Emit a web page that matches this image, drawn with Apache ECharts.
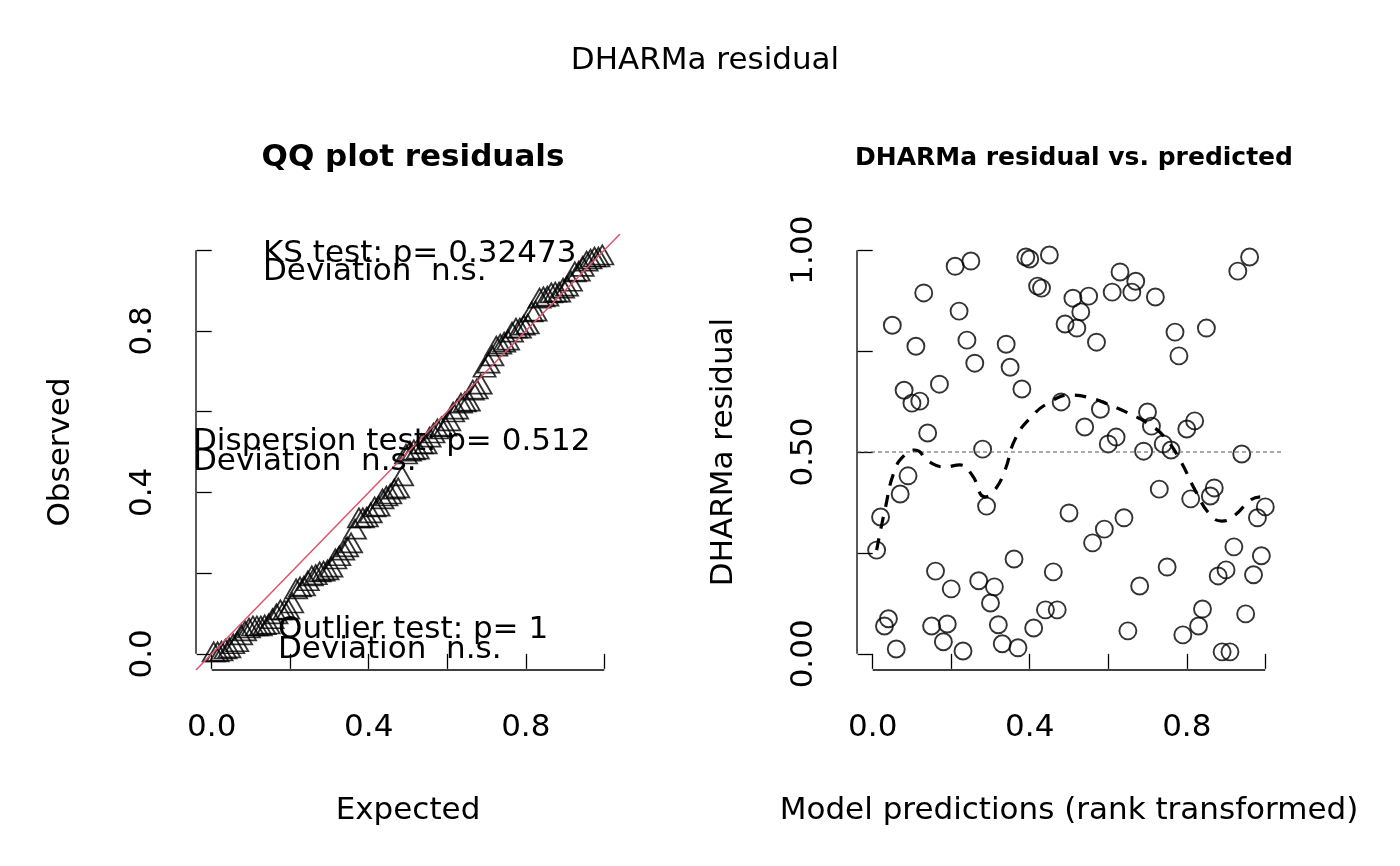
<!DOCTYPE html>
<html><head><meta charset="utf-8">
<script src="https://cdn.jsdelivr.net/npm/echarts@6/dist/echarts.min.js"></script>
<style>html,body{margin:0;padding:0;background:#fff}#c{width:1400px;height:866px}</style>
</head><body><div id="c"></div>
<script>
// Scaled residuals in order of rank-transformed model predictions
const residuals = [0.257,0.339,0.069,0.087,0.814,0.012,0.396,0.653,0.441,0.621,
0.762,0.626,0.894,0.547,0.069,0.205,0.668,0.030,0.074,0.161,
0.960,0.849,0.007,0.777,0.973,0.720,0.181,0.507,0.366,0.126,
0.166,0.072,0.025,0.767,0.710,0.235,0.015,0.656,0.983,0.978,
0.064,0.911,0.906,0.109,0.988,0.203,0.109,0.624,0.817,0.349,
0.881,0.807,0.847,0.562,0.886,0.275,0.772,0.606,0.309,0.520,
0.896,0.537,0.946,0.337,0.057,0.896,0.923,0.168,0.502,0.599,
0.564,0.884,0.408,0.520,0.215,0.505,0.797,0.738,0.047,0.557,
0.384,0.577,0.069,0.111,0.807,0.391,0.411,0.193,0.005,0.208,
0.005,0.265,0.948,0.495,0.099,0.983,0.196,0.337,0.243,0.364];
// Quantile regression smooth (median)
const smoothX = [0.010,0.031,0.056,0.082,0.107,0.145,0.184,0.222,0.253,0.286,0.311,0.337,0.362,0.401,0.452,0.503,0.554,0.605,0.656,0.707,0.745,0.783,0.821,0.860,0.890,0.923,0.962,0.987];
const smoothY = [0.257,0.356,0.455,0.493,0.505,0.475,0.463,0.468,0.443,0.389,0.406,0.455,0.530,0.584,0.624,0.641,0.634,0.616,0.594,0.567,0.535,0.480,0.406,0.344,0.329,0.344,0.381,0.389];
const qqTicks = [0,0.2,0.4,0.6,0.8,1.0];
const qqLabels = [0,0.4,0.8];
const resTicks = [0,0.25,0.5,0.75,1.0];
const resLabels = [0,0.5,1.0];
const texts = [
 ["KS test: p= 0.32473",263,255],["Deviation  n.s.",263,273],
 ["Dispersion test: p= 0.512",193,443],["Deviation  n.s.",193,463],
 ["Outlier test: p= 1",278,631],["Deviation  n.s.",278,651]];

const n = residuals.length;
const predRank = residuals.map((_,i)=>(i+1)/n);
const sorted = residuals.slice().sort((a,b)=>a-b);
const expected = sorted.map((_,i)=>(i+0.5)/n);

const F = 'DejaVu Sans';
const FS = 31;
function xAx(idx, ticks, labels, name, dec){
  return {gridIndex:idx,type:'value',min:-0.04,max:1.04,splitLine:{show:false},axisLine:{show:false},
    axisTick:{customValues:ticks,length:15,lineStyle:{color:'#000',width:1.3}},
    axisLabel:{customValues:labels,margin:42,fontFamily:F,fontSize:FS,color:'#000',formatter:v=>v.toFixed(dec)},
    name:name,nameLocation:'middle',nameGap:125,nameTextStyle:{fontFamily:F,fontSize:FS,color:'#000'}};
}
function yAx(idx, ticks, labels, name, dec, gap){
  return {gridIndex:idx,type:'value',min:-0.04,max:1.04,splitLine:{show:false},axisLine:{show:false},
    axisTick:{customValues:ticks,length:15,lineStyle:{color:'#000',width:1.3}},
    axisLabel:{customValues:labels,rotate:90,margin:38,fontFamily:F,fontSize:FS,color:'#000',formatter:v=>v.toFixed(dec)},
    name:name,nameLocation:'middle',nameGap:gap,nameRotate:90,nameTextStyle:{fontFamily:F,fontSize:FS,color:'#000'}};
}
const axisLine = (xi,pts)=>({type:'line',xAxisIndex:xi,yAxisIndex:xi,data:pts,symbol:'none',clip:false,silent:true,lineStyle:{color:'#000',width:1.3}});
const opt = {
  animation:false,
  title:[
    {text:'DHARMa residual',left:700,top:40,textAlign:'center',textStyle:{fontFamily:F,fontSize:FS,fontWeight:'normal',color:'#000'}},
    {text:'QQ plot residuals',left:408,top:137,textAlign:'center',textStyle:{fontFamily:F,fontSize:31,fontWeight:'bold',color:'#000'}},
    {text:'DHARMa residual vs. predicted',left:1069,top:141,textAlign:'center',textStyle:{fontFamily:F,fontSize:25,fontWeight:'bold',color:'#000'}}
  ],
  grid:[{left:196,right:780,top:234,bottom:196},{left:857,right:119,top:234,bottom:196}],
  xAxis:[xAx(0,qqTicks,qqLabels,'Expected',1),xAx(1,qqTicks,qqLabels,'Model predictions (rank transformed)',1)],
  yAxis:[yAx(0,qqTicks,qqLabels,'Observed',1,120),yAx(1,resTicks,resLabels,'DHARMa residual',2,118)],
  series:[
    axisLine(0,[[0,-0.04],[1,-0.04]]),axisLine(0,[[-0.04,0],[-0.04,1]]),
    axisLine(1,[[0,-0.04],[1,-0.04]]),axisLine(1,[[-0.04,0],[-0.04,1]]),
    {type:'line',xAxisIndex:0,yAxisIndex:0,data:[[-0.04,-0.04],[1.04,1.04]],symbol:'none',lineStyle:{color:'#DF536B',width:1.5}},
    {type:'scatter',xAxisIndex:0,yAxisIndex:0,data:expected.map((e,i)=>[e,sorted[i]]),symbol:'triangle',symbolSize:[22,19],
      itemStyle:{color:'rgba(0,0,0,0)',borderColor:'#000',borderWidth:1.8}},
    {type:'line',xAxisIndex:1,yAxisIndex:1,data:[[-0.04,0.5],[1.04,0.5]],symbol:'none',lineStyle:{color:'#555',width:1,type:[4,3]}},
    {type:'scatter',xAxisIndex:1,yAxisIndex:1,data:predRank.map((x,i)=>[x,residuals[i]]),symbol:'circle',symbolSize:17,
      itemStyle:{color:'rgba(0,0,0,0)',borderColor:'#000',borderWidth:1.9}},
    {type:'line',xAxisIndex:1,yAxisIndex:1,data:smoothX.map((x,i)=>[x,smoothY[i]]),symbol:'none',smooth:true,
      lineStyle:{color:'#000',width:3.2,type:[12,10]}}
  ],
  graphic: texts.map(t=>({type:'text',left:t[1],top:t[2]-17,z:100,style:{text:t[0],fontFamily:F,fontSize:FS,fill:'#000'}}))
};
echarts.init(document.getElementById('c')).setOption(opt);
</script></body></html>
